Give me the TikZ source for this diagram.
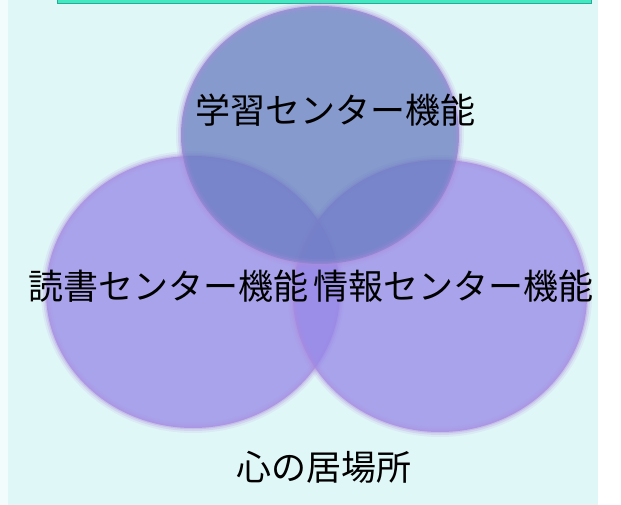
\documentclass[tikz,border=0pt]{standalone}
\usepackage{fontspec}
\newfontfamily\jp{Noto Sans CJK JP}
\definecolor{bgcyan}{RGB}{224,247,248}
\definecolor{topband}{RGB}{68,232,192}
\definecolor{topbandline}{RGB}{40,170,150}
\definecolor{topfill}{RGB}{104,124,192}
\definecolor{sidefill}{RGB}{151,136,232}
\definecolor{glow}{RGB}{175,140,220}
\tikzset{
  softedge/.style={draw=glow},
  lbl/.style={font=\jp\fontsize{35}{38}\selectfont, text=black, inner sep=0pt, anchor=center}
}
\begin{document}
\begin{tikzpicture}[x=1pt,y=-1pt]
\useasboundingbox (0,0) rectangle (621,505);
\fill[white] (0,0) rectangle (621,505);
\fill[bgcyan] (8,0) rectangle (598,505);
\fill[white!60!bgcyan] (0,0) rectangle (8,505);
\draw[fill=topband, draw=topbandline, line width=0.8pt] (57,-10) rectangle (591,3.5);
% side circles
\foreach \cx/\cy in {193/292, 440/296}{
  \fill[sidefill, fill opacity=0.75] (\cx,\cy) ellipse [x radius=147, y radius=136];
  \draw[softedge, line width=10pt, draw opacity=0.12] (\cx,\cy) ellipse [x radius=147, y radius=136];
  \draw[softedge, line width=6pt, draw opacity=0.20] (\cx,\cy) ellipse [x radius=147, y radius=136];
  \draw[softedge, line width=2.5pt, draw opacity=0.30] (\cx,\cy) ellipse [x radius=147, y radius=136];
}
% top circle
\fill[topfill, fill opacity=0.75] (320,135) ellipse [x radius=139, y radius=129];
\draw[softedge, line width=10pt, draw opacity=0.12] (320,135) ellipse [x radius=139, y radius=129];
\draw[softedge, line width=6pt, draw opacity=0.20] (320,135) ellipse [x radius=139, y radius=129];
\draw[softedge, line width=2.5pt, draw opacity=0.30] (320,135) ellipse [x radius=139, y radius=129];
% labels
\node[lbl] (study) at (335,110) {学習センター機能};
\node[lbl] (read) at (168,286) {読書センター機能};
\node[lbl] (info) at (453,286) {情報センター機能};
\node[lbl] (heart) at (324,467) {心の居場所};
\end{tikzpicture}
\end{document}
